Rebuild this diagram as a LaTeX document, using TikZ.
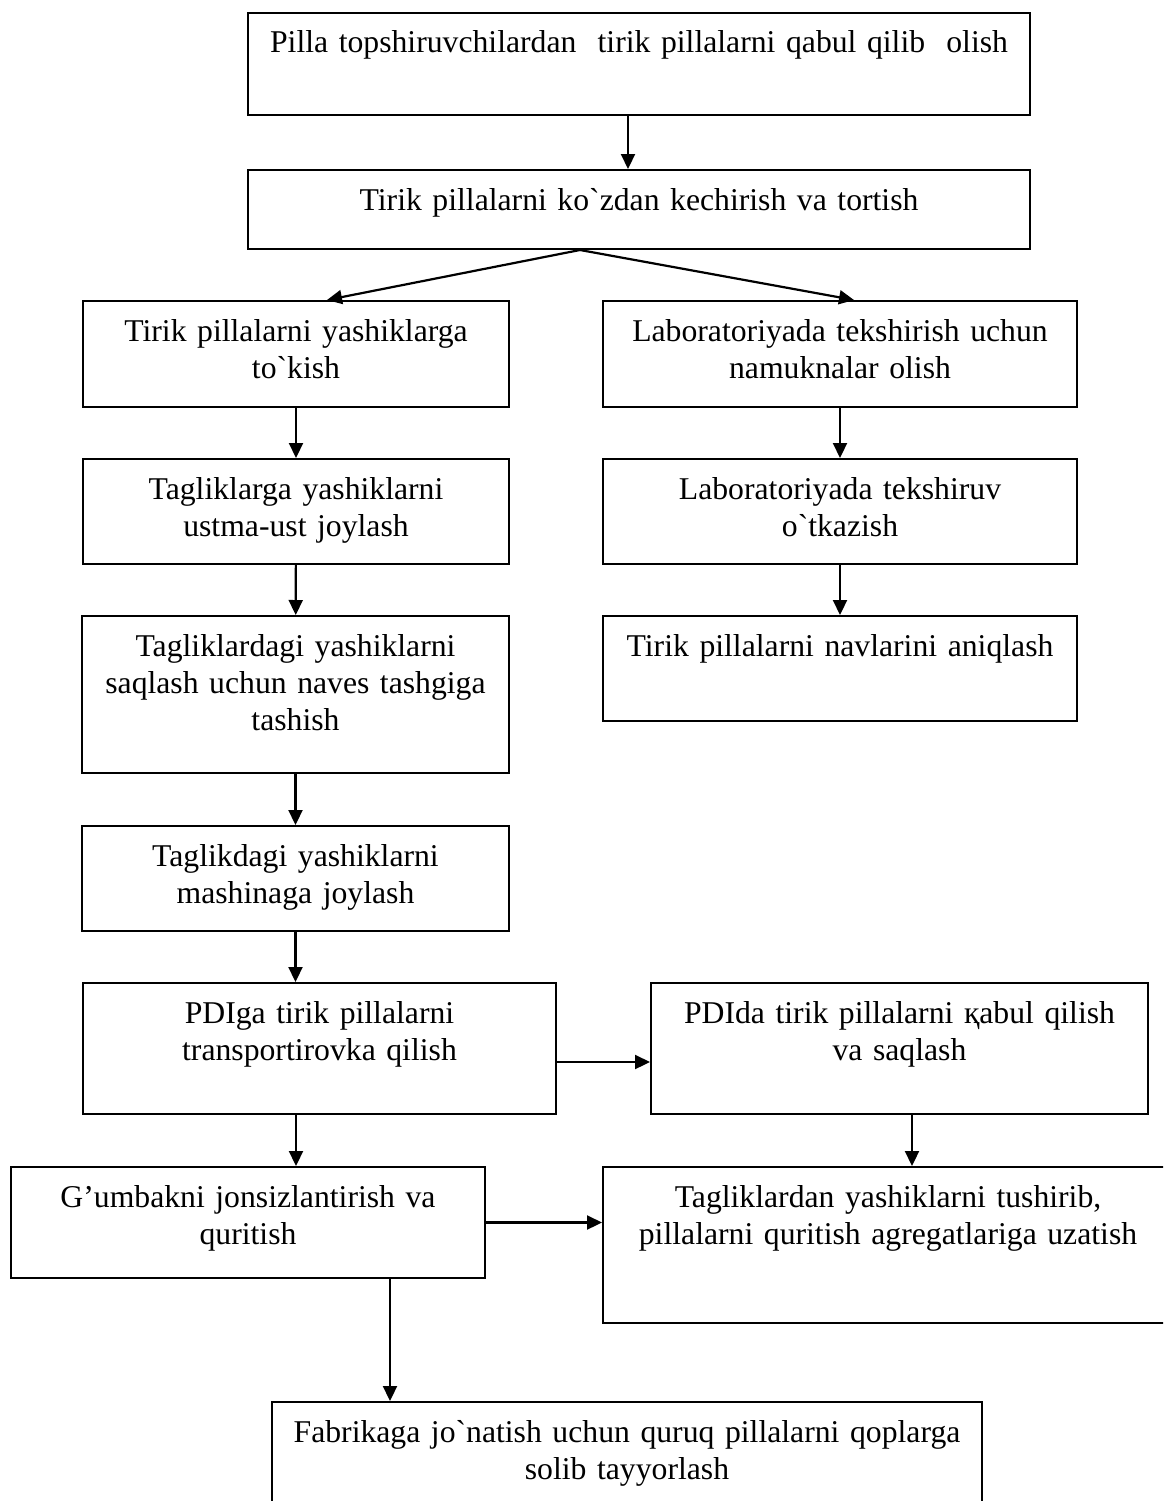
\documentclass[tikz,border=0pt]{standalone}
\usepackage{fontspec}
\setmainfont{Liberation Serif}[Ligatures=TeXOff]
\usetikzlibrary{arrows.meta}
\tikzset{blok/.style={draw, line width=2pt, inner sep=0pt, anchor=north west, align=center,
    text height=40pt, font=\fontsize{31.7}{37}\selectfont},
  strelka/.style={-{Triangle[length=15pt,width=14pt]}, line width=2.2pt}}

\begin{document}
\begin{tikzpicture}[x=1pt,y=-1pt]
\path[use as bounding box, clip] (0,0) rectangle (1163,1501);

\node[blok, text width=782pt, text depth=62pt] (topshir) at (247,12) {Pilla topshiruvchilardan\ \ tirik pillalarni qabul qilib\ \ olish};
\node[blok, text width=782pt, text depth=39pt] (tortish) at (247,169) {Tirik pillalarni ko`zdan kechirish va tortish};

\node[blok, text width=426pt, text depth=66pt] (tokish) at (82,300) {Tirik pillalarni yashiklarga\\to`kish};
\node[blok, text width=474pt, text depth=66pt] (namuna) at (602,300) {Laboratoriyada tekshirish uchun\\namuknalar olish};
\node[blok, text width=426pt, text depth=65pt] (joylash) at (82,458) {Tagliklarga yashiklarni\\ustma-ust joylash};
\node[blok, text width=474pt, text depth=65pt] (tekshiruv) at (602,458) {Laboratoriyada tekshiruv\\o`tkazish};
\node[blok, text width=427pt, text depth=117pt] (tashish) at (81,615) {Tagliklardagi yashiklarni\\saqlash uchun naves tashgiga\\tashish};
\node[blok, text width=474pt, text depth=65pt] (navlar) at (602,615) {Tirik pillalarni navlarini aniqlash};
\node[blok, text width=427pt, text depth=65pt] (mashina) at (81,825) {Taglikdagi yashiklarni\\mashinaga joylash};

\node[blok, text width=473pt, text depth=91pt] (transport) at (82,982) {PDIga tirik pillalarni\\transportirovka qilish};
\node[blok, text width=497pt, text depth=91pt] (qabul) at (650,982) {PDIda tirik pillalarni қabul qilish\\va saqlash};
\node[blok, text width=474pt, text depth=71pt] (quritish) at (10,1166) {G’umbakni jonsizlantirish va\\quritish};
\node[blok, text width=570pt, text depth=116pt] (uzatish) at (602,1166) {Tagliklardan yashiklarni tushirib,\\pillalarni quritish agregatlariga uzatish};
\node[blok, text width=710pt, text depth=140pt] (fabrika) at (271,1401) {Fabrikaga jo`natish uchun quruq pillalarni qoplarga\\solib tayyorlash};

\draw[strelka] ([xshift=-11pt]topshir.south) -- ([xshift=-11pt]tortish.north);
\draw[strelka] ([xshift=-59pt]tortish.south) -- ([xshift=31pt]tokish.north);
\draw[strelka] ([xshift=-59pt]tortish.south) -- ([xshift=14pt]namuna.north);
\draw[strelka] (tokish) -- (joylash);
\draw[strelka] (namuna) -- (tekshiruv);
\draw[strelka] (joylash) -- (tashish);
\draw[strelka] (tekshiruv) -- (navlar);
\draw[strelka] (tashish) -- (mashina);
\draw[strelka] (mashina.south) -- (mashina.south |- transport.north);
\draw[strelka] ([yshift=-13.5pt]transport.east) -- ([yshift=-13.5pt]transport.east -| qabul.west);
\draw[strelka] ([xshift=-23.5pt]transport.south) -- ([xshift=-23.5pt]transport.south |- quritish.north);
\draw[strelka] ([xshift=12.5pt]qabul.south) -- ([xshift=12.5pt]qabul.south |- uzatish.north);
\draw[strelka] (quritish.east) -- (quritish.east -| uzatish.west);
\draw[strelka] ([xshift=142pt]quritish.south) -- ([xshift=142pt]quritish.south |- fabrika.north);
\end{tikzpicture}
\end{document}
